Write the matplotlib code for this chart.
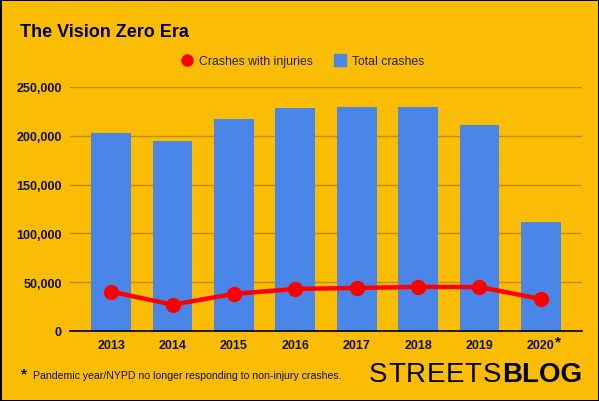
import matplotlib.pyplot as plt
from matplotlib.lines import Line2D
from matplotlib.ticker import FuncFormatter

plt.rcParams['font.family'] = ['Liberation Sans', 'DejaVu Sans']

years = ["2013", "2014", "2015", "2016", "2017", "2018", "2019", "2020"]
total_crashes = [203000, 195000, 217500, 228000, 229000, 230000, 211500, 112000]
injury_crashes = [40300, 27000, 38000, 43100, 44100, 45200, 45000, 32900]

bg = "#fbbc04"
blue = "#4a86e8"
red = "#ff0000"

fig = plt.figure(figsize=(5.99, 4.02), dpi=100, facecolor=bg,
                 edgecolor="black", linewidth=2)
W, H = 599, 402
ax = fig.add_axes([70 / W, 1 - 332 / H, (582 - 70) / W, (332 - 88) / H])
ax.set_facecolor(bg)

x = list(range(len(years)))
ax.bar(x, total_crashes, width=0.65, color=blue, zorder=2)
ax.plot(x, injury_crashes, color=red, linewidth=3.2, marker="o",
        markersize=10, zorder=3)

ax.set_xlim(-0.67, 7.67)
ax.set_ylim(0, 250000)
ax.set_yticks(range(0, 250001, 50000))
ax.yaxis.set_major_formatter(FuncFormatter(lambda v, p: f"{int(v):,}"))
ax.set_xticks(x)
ax.set_xticklabels(years)
ax.grid(axis="y", color="#c08d00", linewidth=1, zorder=1)
for s in ["top", "right", "left"]:
    ax.spines[s].set_visible(False)
ax.spines["bottom"].set_color("black")
ax.spines["bottom"].set_linewidth(1.2)
ax.spines["bottom"].set_zorder(4)
ax.tick_params(length=0, labelsize=9, pad=6)
for lbl in ax.get_xticklabels() + ax.get_yticklabels():
    lbl.set_fontweight("bold")
    lbl.set_color("#111111")

fig.text(20 / W, 1 - 37 / H, "The Vision Zero Era", fontsize=13,
         fontweight="bold", ha="left", va="baseline")

handles = [
    Line2D([], [], linestyle="none", marker="o", color=red, markersize=8),
    Line2D([], [], linestyle="none", marker="s", color=blue, markersize=8),
]
fig.legend(handles, ["Crashes with injuries", "Total crashes"],
           loc="center", bbox_to_anchor=(302 / W, 1 - 62 / H), ncol=2,
           frameon=False, fontsize=8.8, handletextpad=0.4, columnspacing=1.6,
           handlelength=1.2, labelcolor="#222222")

# asterisk next to 2020
fig.text(558 / W, 1 - 346 / H, "*", fontsize=11, fontweight="bold",
         ha="center", va="baseline")

fig.text(24 / W, 1 - 378 / H, "*", fontsize=11, fontweight="bold",
         ha="center", va="baseline")
fig.text(33 / W, 1 - 379 / H,
         "Pandemic year/NYPD no longer responding to non-injury crashes.",
         fontsize=7.6, ha="left", va="baseline", color="#111111")

# logo: "STREETS" regular with a bit of tracking, "BLOG" bold
fig.canvas.draw()
r = fig.canvas.get_renderer()
blog = fig.text(582 / W, 1 - 382 / H, "BLOG", fontsize=20, fontweight="bold",
                ha="right", va="baseline")
fig.canvas.draw()
blog_x0 = blog.get_window_extent(r).x0

word = "STREETS"
tmp = fig.text(0, 0, "", fontsize=20)
prefix = []
for i in range(len(word) + 1):
    tmp.set_text(word[:i] if i else "")
    prefix.append(tmp.get_window_extent(r).width if i else 0.0)
tmp.remove()
start = 369
track = (blog_x0 - 1 - start - prefix[-1]) / (len(word) - 1)
for i, ch in enumerate(word):
    fig.text((start + prefix[i] + i * track) / W, 1 - 382 / H, ch,
             fontsize=20, ha="left", va="baseline")

fig.savefig("out.png", dpi=100, facecolor=bg, edgecolor="black")
